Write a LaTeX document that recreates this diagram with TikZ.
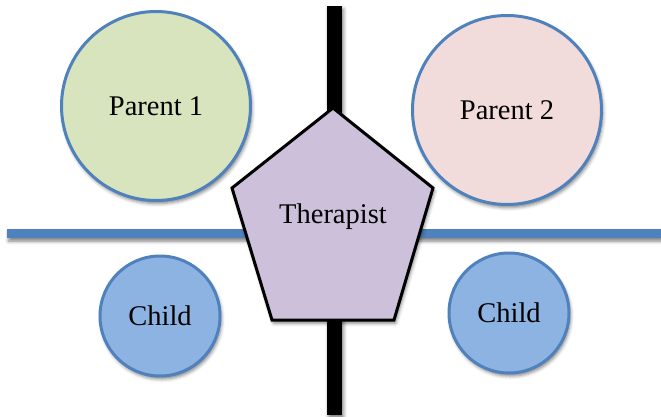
\documentclass[tikz,border=0pt]{standalone}
\usepackage{fontspec}
\setmainfont{Liberation Serif}
\usetikzlibrary{shadows.blur}
\definecolor{rim}{HTML}{4F81BD}
\definecolor{parentA}{HTML}{D7E4BD}
\definecolor{parentB}{HTML}{F2DCDB}
\definecolor{kid}{HTML}{8DB3E2}
\definecolor{therap}{HTML}{CCC0DA}
\tikzset{
  soft/.style={blur shadow={shadow xshift=1.5pt,shadow yshift=-3pt,shadow blur radius=3.5pt,shadow opacity=50}},
  person/.style={circle,draw=rim,line width=3pt,soft,font=\fontsize{28.5}{34}\selectfont},
  parent/.style={person,minimum size=189pt},
  child/.style={person,fill=kid,minimum size=120pt}
}
\begin{document}
\begin{tikzpicture}[x=1pt,y=-1pt]
        \useasboundingbox (0,0) rectangle (661,417);
        \fill[rim,soft] (7,229) rectangle (661,238);
        \fill[black,soft] (327,6) rectangle (342,415);

        \node[parent, fill=parentA] at (156,106)(p1){Parent 1};
        \node[parent, fill=parentB] at (507,110)(p2){Parent 2};
        \node[child] at (160,316)(c1){Child};
        \node[child] at (509,313)(c2){Child};

        \coordinate (t1) at (333,108);
        \coordinate (t2) at (433,188);
        \coordinate (t3) at (394,320);
        \coordinate (t4) at (272,320);
        \coordinate (t5) at (232,188);
        \draw[fill=therap, line width=3pt, soft] (t1) -- (t2) -- (t3) -- (t4) -- (t5) -- cycle;
        \node[font=\fontsize{28.5}{34}\selectfont] at (333,217)(th){Therapist};
    \end{tikzpicture}
\end{document}
